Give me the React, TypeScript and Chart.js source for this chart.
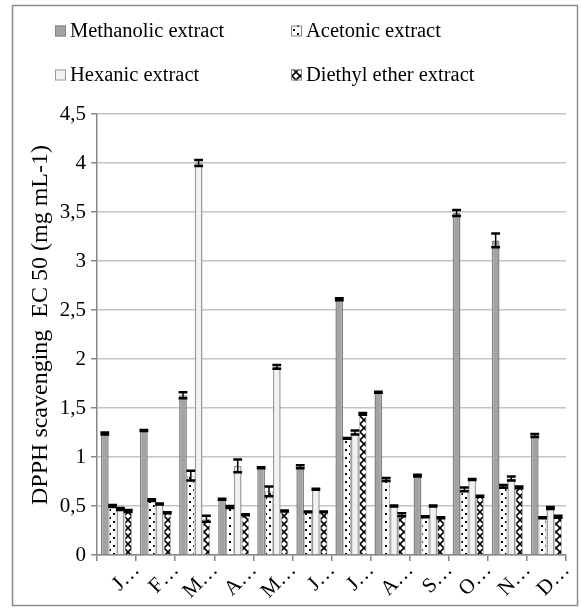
import React, { useEffect, useRef } from "react";
import { Chart, registerables } from "chart.js";

Chart.register(...registerables);

const categories = ["J…", "F…", "M…", "A…", "M…", "J…", "J…", "A…", "S…", "O…", "N…", "D…"];
const seriesNames = ["Methanolic extract", "Acetonic extract", "Hexanic extract", "Diethyl ether extract"];
const methanolic = [1.24, 1.27, 1.63, 0.57, 0.89, 0.9, 2.61, 1.66, 0.81, 3.49, 3.21, 1.22];
const acetonic = [0.5, 0.56, 0.81, 0.49, 0.65, 0.44, 1.19, 0.77, 0.39, 0.67, 0.7, 0.38];
const hexanic = [0.47, 0.52, 4.0, 0.91, 1.92, 0.67, 1.25, 0.5, 0.5, 0.77, 0.78, 0.48];
const diethyl = [0.45, 0.43, 0.37, 0.41, 0.45, 0.44, 1.44, 0.41, 0.38, 0.6, 0.69, 0.39];
const methanolicErr = [0.01, 0.005, 0.03, 0.005, 0.005, 0.015, 0.01, 0.005, 0.01, 0.03, 0.07, 0.015];
const acetonicErr = [0.01, 0.01, 0.05, 0.01, 0.05, 0.005, 0.005, 0.015, 0.005, 0.02, 0.015, 0.005];
const hexanicErr = [0.01, 0.005, 0.03, 0.065, 0.02, 0.005, 0.02, 0.005, 0.005, 0.005, 0.02, 0.01];
const diethylErr = [0.01, 0.005, 0.03, 0.005, 0.005, 0.005, 0.01, 0.015, 0.005, 0.005, 0.01, 0.01];
const yTickLabels = ["0", "0,5", "1", "1,5", "2", "2,5", "3", "3,5", "4", "4,5"];
const yTitle = "DPPH scavenging  EC 50 (mg mL-1)";

const FONT = '"Liberation Serif", "Times New Roman", serif';

function dotPattern(): CanvasPattern | string {
  const c = document.createElement("canvas");
  c.width = 8;
  c.height = 8;
  const g = c.getContext("2d");
  if (!g) return "#fff";
  g.fillStyle = "#ffffff";
  g.fillRect(0, 0, 8, 8);
  g.fillStyle = "#000000";
  g.fillRect(1, 1, 2, 2);
  g.fillRect(5, 5, 2, 2);
  const p = g.createPattern(c, "repeat");
  return p || "#fff";
}

function crossPattern(): CanvasPattern | string {
  const c = document.createElement("canvas");
  c.width = 8;
  c.height = 8;
  const g = c.getContext("2d");
  if (!g) return "#fff";
  g.fillStyle = "#ffffff";
  g.fillRect(0, 0, 8, 8);
  g.strokeStyle = "#000000";
  g.lineWidth = 1.6;
  g.beginPath();
  g.moveTo(-1, -1);
  g.lineTo(9, 9);
  g.moveTo(9, -1);
  g.lineTo(-1, 9);
  g.stroke();
  const p = g.createPattern(c, "repeat");
  return p || "#fff";
}

export default function App() {
  const ref = useRef<HTMLCanvasElement | null>(null);

  useEffect(() => {
    if (!ref.current) return;
    const dots = dotPattern();
    const cross = crossPattern();
    const fills = ["#a3a3a3", dots, "#f2f2f2", cross];
    const borders = ["#858585", "#b5b5b5", "#9a9a9a", "#b5b5b5"];
    const values = [methanolic, acetonic, hexanic, diethyl];
    const errs = [methanolicErr, acetonicErr, hexanicErr, diethylErr];

    const errorBars = {
      id: "errorBars",
      afterDatasetsDraw(chart: any) {
        const ctx = chart.ctx;
        const ys = chart.scales.y;
        ctx.save();
        ctx.strokeStyle = "#000";
        for (let d = 0; d < values.length; d++) {
          const meta = chart.getDatasetMeta(d);
          meta.data.forEach((el: any, i: number) => {
            const v = values[d][i];
            const e = errs[d][i];
            const yt = ys.getPixelForValue(v + e);
            const yb = ys.getPixelForValue(v - e);
            const hw = el.width / 2 + 0.5;
            ctx.lineWidth = 1.5;
            ctx.beginPath();
            ctx.moveTo(el.x, yt);
            ctx.lineTo(el.x, yb);
            ctx.stroke();
            ctx.lineWidth = 2.5;
            ctx.beginPath();
            ctx.moveTo(el.x - hw, yt);
            ctx.lineTo(el.x + hw, yt);
            ctx.moveTo(el.x - hw, yb);
            ctx.lineTo(el.x + hw, yb);
            ctx.stroke();
          });
        }
        ctx.restore();
      },
    };

    const decorations = {
      id: "decorations",
      afterDraw(chart: any) {
        const ctx = chart.ctx;
        ctx.save();
        // outer border
        ctx.strokeStyle = "#8c8c8c";
        ctx.lineWidth = 1.5;
        ctx.strokeRect(12.5, 5.5, 565, 600);
        // legend
        ctx.font = "20.5px " + FONT;
        ctx.textBaseline = "middle";
        ctx.textAlign = "left";
        const pos = [
          [55, 31],
          [291, 31],
          [55, 75],
          [291, 75],
        ];
        for (let d = 0; d < seriesNames.length; d++) {
          const [x, y] = pos[d];
          ctx.fillStyle = fills[d];
          ctx.fillRect(x, y - 5.5, 11, 11);
          ctx.strokeStyle = borders[d] === "#b5b5b5" ? "#888" : borders[d];
          ctx.lineWidth = 1;
          ctx.strokeRect(x + 0.5, y - 5, 10, 10);
          ctx.fillStyle = "#000";
          ctx.fillText(seriesNames[d], x + 15, y + 1);
        }
        // y title
        ctx.translate(47, 325);
        ctx.rotate(-Math.PI / 2);
        ctx.textAlign = "center";
        ctx.textBaseline = "alphabetic";
        ctx.font = "24px " + FONT;
        ctx.fillStyle = "#000";
        ctx.fillText(yTitle, 0, 0);
        ctx.restore();
      },
    };

    const chart = new Chart(ref.current, {
      type: "bar",
      data: {
        labels: categories,
        datasets: values.map((vals, d) => ({
          label: seriesNames[d],
          data: vals,
          backgroundColor: fills[d] as any,
          borderColor: borders[d],
          borderWidth: d === 0 || d === 2 ? 1.5 : 1,
          categoryPercentage: 0.8,
          barPercentage: 1.0,
        })),
      },
      options: {
        responsive: false,
        animation: false,
        layout: { padding: { left: 0, right: 15, top: 114, bottom: 0 } },
        plugins: {
          legend: { display: false },
          tooltip: { enabled: false },
          title: { display: false },
        },
        scales: {
          x: {
            grid: {
              offset: true,
              drawOnChartArea: false,
              drawTicks: true,
              tickLength: 6,
              color: "#868686",
              lineWidth: 1.5,
            },
            border: { color: "#868686", width: 1.5 },
            ticks: {
              color: "#000",
              font: { family: FONT, size: 21 },
              minRotation: 45,
              maxRotation: 45,
              autoSkip: false,
              labelOffset: 20,
              padding: -3,
            },
            afterFit(scale: any) {
              scale.height = 60;
            },
          },
          y: {
            min: 0,
            max: 4.5,
            grid: {
              color: "#c4c4c4",
              lineWidth: 1.5,
              tickLength: 6,
              tickColor: "#868686",
            },
            border: { color: "#868686", width: 1.5 },
            ticks: {
              stepSize: 0.5,
              color: "#000",
              font: { family: FONT, size: 21 },
              padding: 5,
              callback: (_v: any, i: number) => yTickLabels[i],
            },
            afterFit(scale: any) {
              scale.width = 97;
            },
          },
        },
      },
      plugins: [errorBars, decorations],
    });
    return () => chart.destroy();
  }, []);

  return (
    <div style={{ position: "absolute", left: 0, top: 0, width: 581, height: 615, background: "#fff" }}>
      <canvas ref={ref} width={581} height={615} />
    </div>
  );
}
